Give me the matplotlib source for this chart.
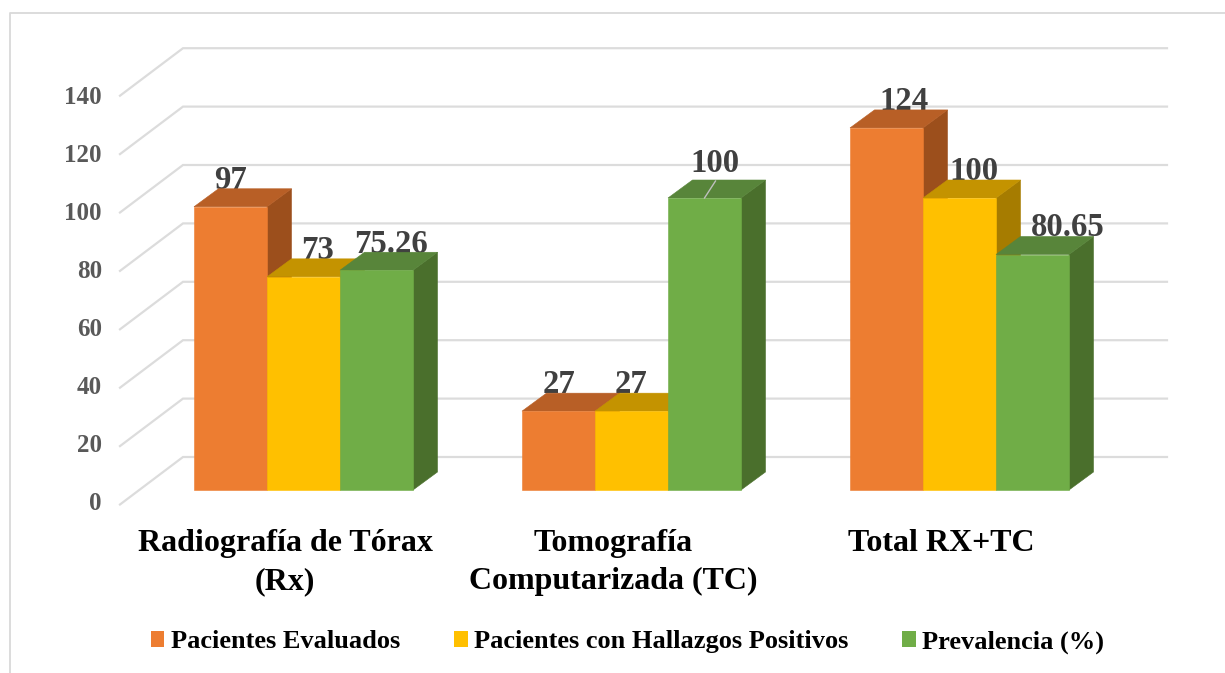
import numpy as np
import matplotlib
matplotlib.use('Agg')
import matplotlib.pyplot as plt
from matplotlib.lines import Line2D
from matplotlib.patches import Patch, Polygon

categories = ['Radiografía de Tórax\n(Rx)', 'Tomografía\nComputarizada (TC)', 'Total RX+TC']
series_names = ['Pacientes Evaluados', 'Pacientes con Hallazgos Positivos', 'Prevalencia (%)']
evaluados = [97, 27, 124]
positivos = [73, 27, 100]
prevalencia = [75.26, 100, 80.65]
value_labels = [['97', '27', '124'], ['73', '27', '100'], ['75.26', '100', '80.65']]
yticks = [0, 20, 40, 60, 80, 100, 120, 140]

W, H = 1225, 673
# pixel scale of the picture
PX_GROUP = 328.0
PX_VALUE = 2.92
X0, Y0 = 303.5, 490.0

front = ['#ED7D31', '#FFC000', '#70AD47']
top = ['#B85F26', '#C49300', '#58853A']
side = ['#9C4F1C', '#A67C00', '#4A6F2C']
GRID = '#DCDCDC'


def dx(px):
    return px / PX_GROUP


def dv(px):
    return px / PX_VALUE


def xp(px):
    return (px - X0) / PX_GROUP


def yp(py):
    return (Y0 - py) / PX_VALUE


plt.rcParams['font.family'] = ['Liberation Serif', 'DejaVu Serif']
plt.rcParams['font.weight'] = 'bold'

fig = plt.figure(figsize=(W / 100, H / 100), dpi=100)
ax = fig.add_axes([0, 0, 1, 1])
ax.set_xlim(xp(0), xp(W))
ax.set_ylim(yp(H), yp(0))
ax.axis('off')

# chart frame
fig.add_artist(Line2D([9.5 / W, 9.5 / W, 1], [0, 1 - 13 / H, 1 - 13 / H], color='#D9D9D9', lw=1.3))

# gridlines with the slanted part on the side wall
for t in yticks:
    ax.plot([xp(120), xp(183), xp(1167)], [t - dv(14.5), t + dv(33), t + dv(33)],
            color=GRID, lw=1.6, zorder=1, solid_joinstyle='miter')
    # tick labels run a little tighter than the gridlines
    ax.text(xp(102), yp(503 - t * 2.895), str(t), ha='right', va='center', fontsize=18, color='#595959')

# bars
bar_w = dx(73)
depth_x, depth_v = dx(24.5), dv(18)
all_series = [evaluados, positivos, prevalencia]
label_off = [[(0, 26), (0, 27), (18, 26)], [(14, 26), (0, 27), (14, 26)], [(14, 26), (10, 34), (35, 27)]]

for g in range(len(categories)):
    for s, vals in enumerate(all_series):
        v = vals[g]
        x1 = g + (s - 1.5) * bar_w
        x2 = x1 + bar_w
        ax.add_patch(Polygon([(x2, 0), (x2 + depth_x, depth_v), (x2 + depth_x, v + depth_v), (x2, v)],
                             facecolor=side[s], edgecolor=side[s], lw=0.4, zorder=3))
        ax.add_patch(Polygon([(x1, v), (x2, v), (x2 + depth_x, v + depth_v), (x1 + depth_x, v + depth_v)],
                             facecolor=top[s], edgecolor=top[s], lw=0.4, zorder=3))
        ax.add_patch(Polygon([(x1, 0), (x2, 0), (x2, v), (x1, v)],
                             facecolor=front[s], edgecolor=front[s], lw=0.4, zorder=3))
        ox, oy = label_off[s][g]
        ax.annotate(value_labels[s][g], ((x1 + x2) / 2, v), xytext=(ox, oy), textcoords='offset pixels',
                    ha='center', va='center', fontsize=23.6, color='#404040', zorder=2)

# leader line of the 100 label
ax.plot([1 + bar_w, 1 + bar_w + dx(11)], [100, 100 + dv(17)],
        color='#BFBFBF', lw=1, zorder=4)

# category labels
for g, name in enumerate(categories):
    ax.text(g + dx(-18.5), yp(529), name, ha='center', va='top', fontsize=23,
            color='black', linespacing=1.42)

handles = [Patch(facecolor=c, edgecolor='none', label=n) for c, n in zip(front, series_names)]
ax.legend(handles=handles, ncol=3, frameon=False, fontsize=19, loc='center',
          bbox_to_anchor=(627.5 / W, 1 - 642 / H), handlelength=0.53, handleheight=0.53,
          handletextpad=0.23, columnspacing=2.05, labelcolor='black')

fig.savefig('out.png', dpi=100)
